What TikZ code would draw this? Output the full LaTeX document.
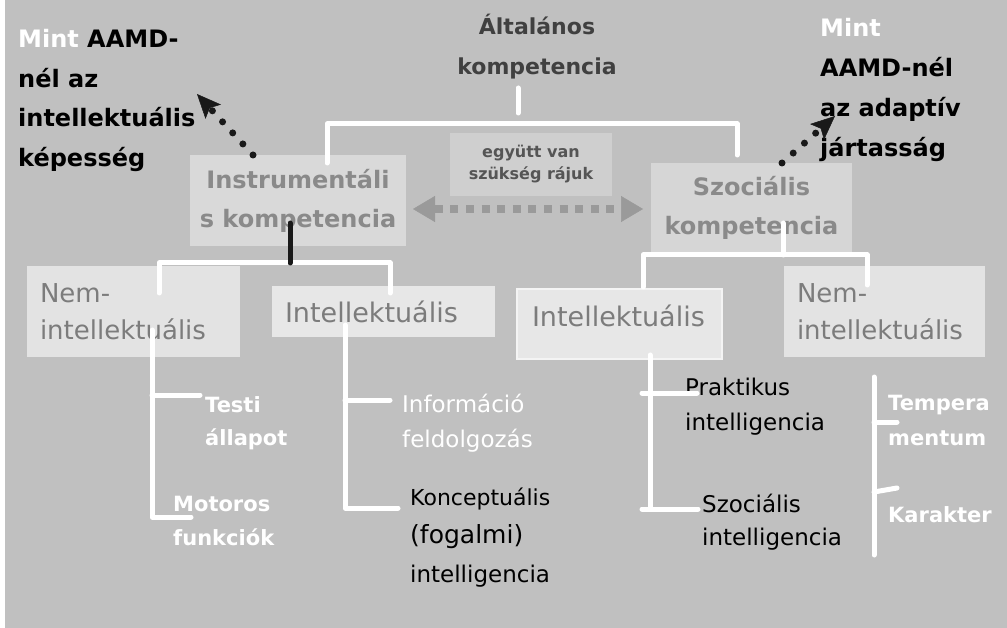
\documentclass[tikz,border=0pt]{standalone}
\usepackage{fontspec}
\setmainfont{DejaVu Sans}
\usetikzlibrary{arrows.meta,calc}
\definecolor{bgc}{HTML}{C0C0C0}
\definecolor{boxA}{HTML}{D9D9D9}
\definecolor{boxB}{HTML}{D6D6D6}
\definecolor{boxC}{HTML}{CFCFCF}
\definecolor{boxD}{HTML}{E3E3E3}
\definecolor{boxE}{HTML}{E7E7E7}
\definecolor{headtxt}{HTML}{8A8A8A}
\definecolor{subtxt}{HTML}{7C7C7C}
\definecolor{toptxt}{HTML}{404040}
\definecolor{midtxt}{HTML}{555555}
\definecolor{arrgray}{HTML}{9A9A9A}
\begin{document}
\begin{tikzpicture}[x=1pt,y=-1pt,
  box/.style={inner sep=0pt, outer sep=0pt},
  headbox/.style={box, text=headtxt, align=center, font=\bfseries\fontsize{24}{39}\selectfont},
  subbox/.style={box, text=subtxt, align=left, font=\fontsize{26}{37}\selectfont},
  note/.style={anchor=base west, align=left, inner sep=0pt},
  wl/.style={draw=white, line width=5pt, line cap=round, line join=round},
  bl/.style={draw=black!90, line width=5pt, line cap=round},
  dotarrow/.style={draw=black!90, line width=7pt, line cap=round, dash pattern=on 0pt off 15pt,
    -{Stealth[length=24pt,width=21pt,inset=5pt,line width=0.5pt]}},
  grayarrow/.style={draw=arrgray, line width=8pt, dash pattern=on 8pt off 7.6pt,
    {Triangle[length=22pt,width=26pt,line width=0.5pt]}-{Triangle[length=22pt,width=26pt,line width=0.5pt]}}
]
\useasboundingbox (0,0) rectangle (1007,628);
\fill[white] (0,0) rectangle (1007,628);
\fill[bgc] (5,0) rectangle (1007,628);

% headings and side notes (base anchor = baseline of the last line)
\node[anchor=base, align=center, inner sep=0pt, text=toptxt,
      font=\bfseries\fontsize{22}{40}\selectfont] (gen) at (537,75) {Általános\\kompetencia};
\node[note, font=\bfseries\fontsize{24}{39.5}\selectfont] (lt) at (18,166.5)
  {\textcolor{white}{Mint} AAMD-\\nél az\\intellektuális\\képesség};
\node[note, font=\bfseries\fontsize{24}{40}\selectfont] (rt) at (820,157)
  {\textcolor{white}{Mint}\\AAMD-nél\\az adaptív\\jártasság};

% boxes
\node[headbox, fill=boxA, minimum width=216pt, minimum height=91pt] (instr) at (298,200.5) {Instrumentáli\\s kompetencia};
\node[headbox, fill=boxB, minimum width=201pt, minimum height=89pt] (szoc) at (751.5,207.5) {Szociális\\kompetencia};
\node[box, fill=boxC, minimum width=162pt, minimum height=63pt, align=center, text=midtxt,
      font=\bfseries\fontsize{16}{22}\selectfont] (egy) at (531,164.5) {együtt van\\szükség rájuk};
\node[subbox, fill=boxD, minimum width=213pt, minimum height=91pt, text width=187pt, inner xsep=13pt] (nemL) at (133.5,311.5) {Nem-\\intellektuális};
\node[subbox, fill=boxE, minimum width=223pt, minimum height=51pt, text width=197pt, inner xsep=13pt,
      font=\fontsize{27}{37}\selectfont] (intL) at (383.5,311.5) {Intellektuális};
\node[subbox, fill=boxE, draw=white!55!boxE, line width=1.5pt, minimum width=205pt, minimum height=70pt,
      text width=175pt, inner xsep=15pt, text depth=17pt, font=\fontsize{27}{37}\selectfont] (intR) at (619.5,324) {Intellektuális};
\node[subbox, fill=boxD, minimum width=201pt, minimum height=91pt, text width=175pt, inner xsep=13pt] (nemR) at (884.5,311.5) {Nem-\\intellektuális};

% leaf labels
\node[note, text=white, font=\bfseries\fontsize{21}{33}\selectfont] (testi) at (205,445) {Testi\\állapot};
\node[note, text=white, font=\bfseries\fontsize{21}{34}\selectfont] (motor) at (173,545) {Motoros\\funkciók};
\node[note, text=white, font=\fontsize{23}{35}\selectfont] (info) at (402,447) {Információ\\feldolgozás};
\node[note, text=black, font=\fontsize{22}{38.5}\selectfont] (konc) at (410,582)
  {Konceptuális\\{\fontsize{25}{38.5}\selectfont(fogalmi)}\\{\fontsize{23}{38.5}\selectfont intelligencia}};
\node[note, text=black, font=\fontsize{23}{35}\selectfont] (prak) at (685,430) {Praktikus\\intelligencia};
\node[note, text=black, font=\fontsize{23}{33}\selectfont] (szint) at (702,545) {Szociális\\intelligencia};
\node[note, text=white, font=\bfseries\fontsize{21}{35}\selectfont] (temp) at (888,445) {Tempera\\mentum};
\node[note, text=white, font=\bfseries\fontsize{21}{35}\selectfont] (kar) at (888,522) {Karakter};

% top level tree
\coordinate (genfoot) at (518,88);
\draw[wl] (genfoot) -- ++(0,25);
\draw[wl] ($(instr.north)+(29,8)$) |- ($(szoc.north)+(-14.5,-39)$) -- ($(szoc.north)+(-14.5,-8)$);

% instrumental branch
\draw[wl] ($(nemL.north)+(25.5,27)$) |- ($(intL.north)+(6.5,-23)$) -- ($(intL.north)+(6.5,7)$);
\draw[bl] ($(instr.south)+(-8,-23)$) -- ($(instr.south)+(-8,17)$);

% social branch
\draw[wl] ($(szoc.south)+(31.5,-29)$) -- ($(szoc.south)+(31.5,3)$);
\draw[wl] ($(intR.north)+(23.5,-2)$) |- ($(nemR.north)+(-17.5,-11)$) -- ($(nemR.north)+(-17.5,19)$);

% leaves of the left non-intellectual box
\draw[wl] ($(nemL.south)+(18.5,-27)$) |- ($(motor.base west)+(18,-28)$);
\draw[wl] ($(testi.base west)+(-5,-50)$) -- ++(-48,0);

% leaves of the left intellectual box
\draw[wl] ($(intL.south)+(-38.5,-12)$) |- ($(konc.base west)+(-12,-74)$);
\draw[wl] ($(info.base west)+(-12,-47)$) -- ++(-45,0);

% leaves of the right intellectual box
\draw[wl] ($(intR.south)+(30.5,-4)$) -- ++(0,154);
\draw[wl] ($(szint.base west)+(-4,-36)$) -- ++(-56,0);
\draw[wl] ($(prak.base west)+(12,-37)$) -- ++(-55,0);

% leaves of the right non-intellectual box
\coordinate (nemRfoot) at (874,555);
\draw[wl] ($(nemR.south)+(-10.5,20)$) -- (nemRfoot);
\draw[wl] ($(temp.base west)+(9,-23)$) -- ++(-23,0);
\draw[wl] ($(kar.base west)+(9,-34)$) -- ++(-23,4);

% mutual need arrow
\draw[grayarrow] ($(instr.east)+(7,8.5)$) -- ($(szoc.west)+(-8,1.5)$);

% pointers to the AAMD notions
\coordinate (ltip) at (197,94);
\coordinate (rtip) at (835,116);
\draw[dotarrow] ($(instr.north west)+(63,0)$) -- (ltip);
\draw[dotarrow] ($(szoc.north west)+(131,0)$) -- (rtip);
\end{tikzpicture}
\end{document}
